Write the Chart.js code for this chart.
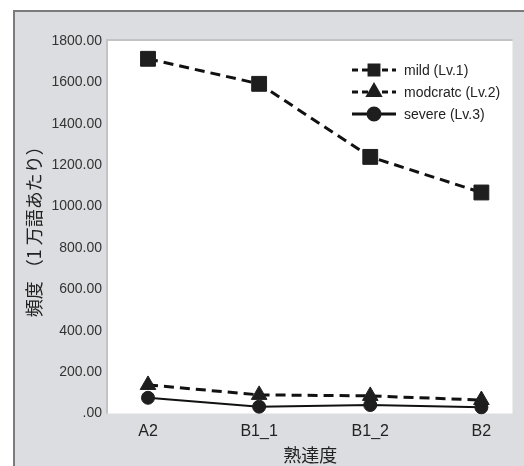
<!DOCTYPE html>
<html>
<head>
<meta charset="utf-8">
<script src="https://cdn.jsdelivr.net/npm/chart.js@4/dist/chart.umd.min.js"></script>
<style>
  html, body { margin: 0; padding: 0; background: #fff; overflow: hidden; }
  canvas { display: block; }
</style>
</head>
<body>
<canvas id="chart" width="524" height="466"></canvas>
<script>
// --- data ---
const levels = ['A2', 'B1_1', 'B1_2', 'B2'];
const mild = [1714, 1593, 1240, 1068];
const moderate = [138, 90, 85, 65];
const severe = [76, 33, 41, 30];
const yTickValues = [0, 200, 400, 600, 800, 1000, 1200, 1400, 1600, 1800];

const seriesLabels = ['mild (Lv.1)', 'modcratc (Lv.2)', 'severe (Lv.3)'];

function toPoints(arr) {
    return arr.map((v, i) => ({ x: i, y: v }));
}

Chart.defaults.font.family = '"Liberation Sans", Arial, sans-serif';
Chart.defaults.color = '#333';

// 灰色の外枠と白いプロット領域
const framePlugin = {
    id: 'frame',
    beforeDraw(chart) {
        const ctx = chart.ctx;
        const a = chart.chartArea;
        ctx.save();
        ctx.fillStyle = '#fff';
        ctx.fillRect(0, 0, chart.width, chart.height);
        ctx.fillStyle = '#dcdde0';
        ctx.fillRect(13, 10, chart.width - 13, chart.height - 10);
        ctx.strokeStyle = '#7b7b7d';
        ctx.lineWidth = 2;
        ctx.beginPath();
        ctx.moveTo(14, chart.height);
        ctx.lineTo(14, 11);
        ctx.lineTo(chart.width, 11);
        ctx.stroke();
        ctx.fillStyle = '#fff';
        ctx.fillRect(a.left, a.top, a.right - a.left, a.bottom - a.top);
        ctx.strokeStyle = '#c3c3c5';
        ctx.beginPath();
        ctx.moveTo(a.left - 1, a.bottom);
        ctx.lineTo(a.left - 1, a.top - 1);
        ctx.lineTo(a.right, a.top - 1);
        ctx.stroke();
        ctx.restore();
    }
};

// 凡例 (プロット内右上)
const insideLegend = {
    id: 'insideLegend',
    afterDatasetsDraw(chart) {
        const ctx = chart.ctx;
        const rows = [70, 92, 114];
        chart.data.datasets.forEach((ds, i) => {
            const y = rows[i];
            ctx.save();
            ctx.strokeStyle = '#111';
            ctx.lineWidth = 3;
            ctx.setLineDash(ds.legendDash);
            ctx.beginPath();
            ctx.moveTo(352, y);
            ctx.lineTo(396, y);
            ctx.stroke();
            ctx.setLineDash([]);
            ctx.fillStyle = '#1e1e1e';
            ctx.strokeStyle = '#1e1e1e';
            Chart.helpers.drawPoint(ctx, {
                pointStyle: ds.pointStyle,
                radius: ds.legendRadius,
                rotation: 0,
                borderWidth: 1
            }, 374, y);
            ctx.fillStyle = '#222';
            ctx.font = '14px "Liberation Sans", Arial, sans-serif';
            ctx.textBaseline = 'middle';
            ctx.textAlign = 'left';
            ctx.fillText(ds.label, 404, y + 1);
            ctx.restore();
        });
    }
};

new Chart(document.getElementById('chart'), {
    type: 'line',
    data: {
        datasets: [
            {
                label: seriesLabels[0],
                data: toPoints(mild),
                borderColor: '#111',
                borderWidth: 3,
                borderDash: [10, 6],
                pointStyle: 'rect',
                pointRadius: 10.5,
                legendRadius: 7,
                legendDash: [6, 4],
                pointBackgroundColor: '#1e1e1e',
                pointBorderColor: '#1e1e1e',
                pointBorderWidth: 1,
                tension: 0,
                clip: false
            },
            {
                label: seriesLabels[1],
                data: toPoints(moderate),
                borderColor: '#111',
                borderWidth: 3,
                borderDash: [10, 6],
                pointStyle: 'triangle',
                pointRadius: 9,
                legendRadius: 7,
                legendDash: [6, 4],
                pointBackgroundColor: '#1e1e1e',
                pointBorderColor: '#1e1e1e',
                pointBorderWidth: 1,
                tension: 0,
                clip: false
            },
            {
                label: seriesLabels[2],
                data: toPoints(severe),
                borderColor: '#111',
                borderWidth: 2,
                borderDash: [],
                pointStyle: 'circle',
                pointRadius: 6.5,
                legendRadius: 6,
                legendDash: [],
                pointBackgroundColor: '#1e1e1e',
                pointBorderColor: '#1e1e1e',
                pointBorderWidth: 1,
                tension: 0,
                clip: false
            }
        ]
    },
    options: {
        responsive: false,
        devicePixelRatio: 1,
        animation: false,
        layout: { padding: { top: 41, right: 0, bottom: 0, left: 0 } },
        plugins: {
            legend: { display: false },
            tooltip: { enabled: false }
        },
        scales: {
            x: {
                type: 'linear',
                min: -0.36,
                max: 3.28,
                afterBuildTicks(scale) {
                    scale.ticks = levels.map((_, i) => ({ value: i }));
                },
                afterFit(scale) { scale.height = 52.5; },
                grid: { display: false, drawTicks: false },
                border: { display: false },
                ticks: {
                    padding: 8,
                    color: '#222',
                    font: { size: 16 },
                    maxRotation: 0,
                    autoSkip: false,
                    callback: (v) => levels[v]
                },
                title: {
                    display: true,
                    text: '熟達度',
                    color: '#222',
                    font: { family: '"Noto Sans CJK JP", sans-serif', size: 18 },
                    padding: { top: 0, bottom: 0 }
                }
            },
            y: {
                min: 0,
                max: 1800,
                afterBuildTicks(scale) {
                    scale.ticks = yTickValues.map(v => ({ value: v }));
                },
                afterFit(scale) { scale.width = 108; },
                grid: { display: false, drawTicks: false },
                border: { display: false },
                ticks: {
                    padding: 6,
                    color: '#333',
                    font: { size: 14 },
                    callback: (v) => v === 0 ? '.00' : v.toFixed(2)
                },
                title: {
                    display: true,
                    text: '頻度 （1 万語あたり）',
                    color: '#222',
                    font: { family: '"Noto Sans CJK JP", sans-serif', size: 18 },
                    padding: { top: 23, bottom: 0 }
                }
            }
        }
    },
    plugins: [framePlugin, insideLegend]
});
</script>
</body>
</html>
